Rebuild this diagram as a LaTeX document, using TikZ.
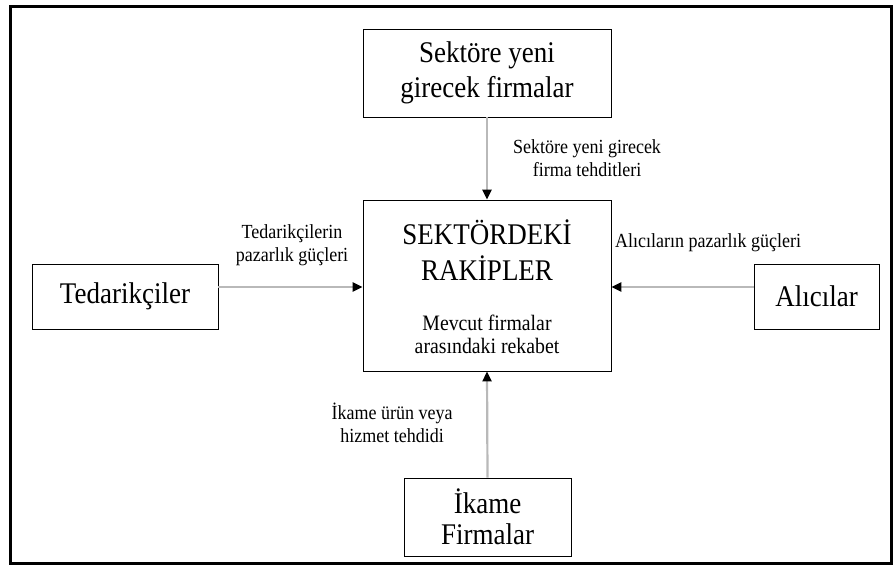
\documentclass[tikz,border=0pt]{standalone}
\usepackage{fontspec}
\setmainfont[FakeStretch=0.9]{Liberation Serif}
\usetikzlibrary{arrows.meta}
\begin{document}
\begin{tikzpicture}[x=1pt,y=1pt,
	kutu/.style={draw, thick, inner sep=0pt, align=center, font=\fontsize{30}{35}\selectfont},
	ok/.style={draw=gray!55, line width=2.2pt, -{Triangle[black,length=10pt,width=9pt]}},
	etiket/.style={align=center, inner sep=0pt, font=\fontsize{20}{23}\selectfont}]
	\useasboundingbox (0,0) rectangle (893,-565);
	\draw[line width=3pt] (10,-6) rectangle (891,-563);
	% kutular
	\node[kutu, minimum width=248pt, minimum height=88pt] (yeni) at (487,-73) {Sektöre yeni\\girecek firmalar};
	\node[kutu, minimum width=248pt, minimum height=171pt] (rakip) at (487,-285.5) {};
	\node[kutu, minimum width=186pt, minimum height=65pt] (tedarik) at (125,-296.5) {Tedarikçiler};
	\node[kutu, minimum width=125pt, minimum height=65pt] (alici) at (816.5,-296.5) {Alıcılar};
	\node[kutu, minimum width=167pt, minimum height=78pt, font=\fontsize{30}{31}\selectfont] (ikame) at (487.5,-517) {İkame\\Firmalar};
	\node[align=center, inner sep=0pt, font=\fontsize{30}{36}\selectfont] (baslik) at (487,-250) {SEKTÖRDEKİ\\RAKİPLER};
	\node[etiket, font=\fontsize{22}{23}\selectfont] (rekabet) at (487,-334) {Mevcut firmalar\\arasındaki rekabet};
	% oklar
	\draw[ok] (yeni.south) -- (rakip.north);
	\draw[ok] ([yshift=9.5pt]tedarik.east) coordinate (t1) -- (t1 -| rakip.west);
	\draw[ok] ([yshift=9.5pt]alici.west) coordinate (a1) -- (a1 -| rakip.east);
	\draw[ok] (ikame.north) -- (rakip.south);
	% etiketler
	\node[etiket] (yenietiket) at (587,-158) {Sektöre yeni girecek\\firma tehditleri};
	\node[etiket] (tedariketiket) at (292,-245) {Tedarikçilerin\\pazarlık güçleri};
	\node[etiket, anchor=west] (alicietiket) at (615,-243) {Alıcıların pazarlık güçleri};
	\node[etiket] (ikameetiket) at (392,-423) {İkame ürün veya\\hizmet tehdidi};
\end{tikzpicture}
\end{document}
